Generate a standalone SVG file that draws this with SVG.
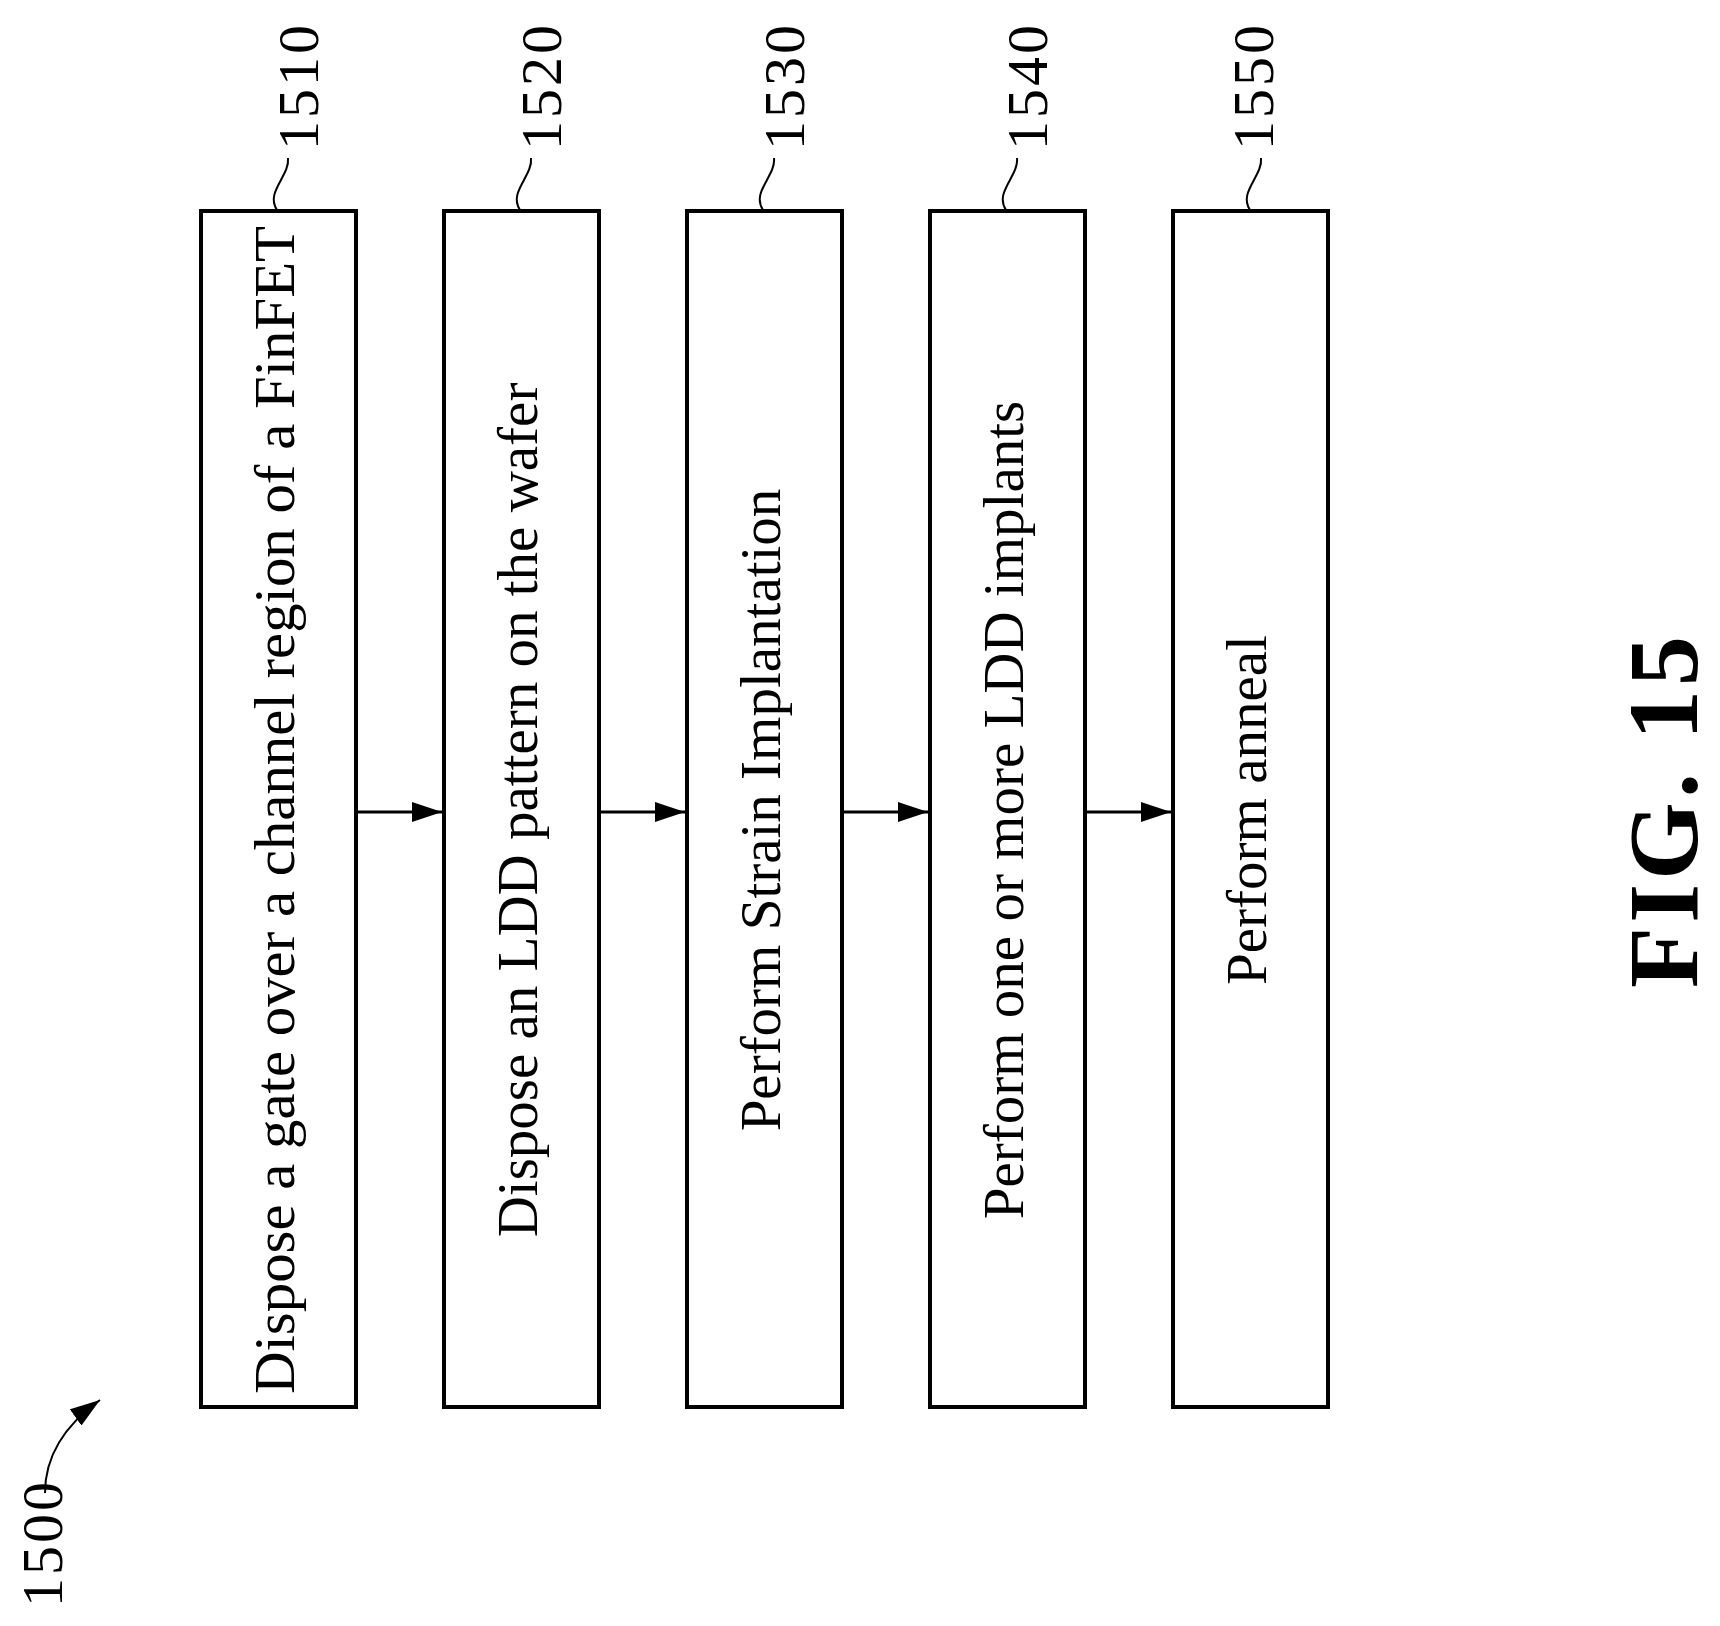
<svg xmlns="http://www.w3.org/2000/svg" width="1720" height="1626" viewBox="0 0 1720 1626">
<defs>
<marker id="ah2" markerWidth="30" markerHeight="20" refX="30" refY="10" orient="auto" markerUnits="userSpaceOnUse" viewBox="0 0 30 20"><path d="M0,0 L30,10 L0,20 Z" fill="#000"/></marker>
<style>
.box{fill:#fff;stroke:#000;stroke-width:4}
.t{font-family:"Liberation Serif","Times New Roman",serif;font-size:57px;fill:#000;text-anchor:middle}
.lbl{font-family:"Liberation Serif","Times New Roman",serif;font-size:58px;fill:#000;letter-spacing:3px}
.lead{fill:none;stroke:#000;stroke-width:2}
.conn{stroke:#000;stroke-width:3;fill:none}
</style>
</defs>
<rect width="1720" height="1626" fill="#fff"/>
<g id="n1510"><rect class="box" x="201" y="211" width="155" height="1196"/><text class="t" transform="translate(294,810) rotate(-90)" textLength="1168" lengthAdjust="spacingAndGlyphs">Dispose a gate over a channel region of a FinFET</text><path class="lead" d="M277,210 C265,192 290,176 288,158"/><text class="lbl" transform="translate(318,150) rotate(-90)">1510</text></g>
<g id="n1520"><rect class="box" x="444" y="211" width="155" height="1196"/><text class="t" transform="translate(537,810) rotate(-90)">Dispose an LDD pattern on the wafer</text><path class="lead" d="M520,210 C508,192 533,176 531,158"/><text class="lbl" transform="translate(561,150) rotate(-90)">1520</text></g>
<g id="n1530"><rect class="box" x="687" y="211" width="155" height="1196"/><text class="t" transform="translate(780,810) rotate(-90)">Perform Strain Implantation</text><path class="lead" d="M763,210 C751,192 776,176 774,158"/><text class="lbl" transform="translate(804,150) rotate(-90)">1530</text></g>
<g id="n1540"><rect class="box" x="930" y="211" width="155" height="1196"/><text class="t" transform="translate(1023,810) rotate(-90)">Perform one or more LDD implants</text><path class="lead" d="M1006,210 C994,192 1019,176 1017,158"/><text class="lbl" transform="translate(1047,150) rotate(-90)">1540</text></g>
<g id="n1550"><rect class="box" x="1173" y="211" width="155" height="1196"/><text class="t" transform="translate(1266,810) rotate(-90)">Perform anneal</text><path class="lead" d="M1250,210 C1238,192 1263,176 1261,158"/><text class="lbl" transform="translate(1273,150) rotate(-90)">1550</text></g>
<g id="connectors">
<line class="conn" x1="356" y1="812" x2="442" y2="812" marker-end="url(#ah2)"/>
<line class="conn" x1="599" y1="812" x2="685" y2="812" marker-end="url(#ah2)"/>
<line class="conn" x1="842" y1="812" x2="928" y2="812" marker-end="url(#ah2)"/>
<line class="conn" x1="1085" y1="812" x2="1171" y2="812" marker-end="url(#ah2)"/>
<path class="lead" d="M45,1493 C45,1455 65,1425 100,1400" marker-end="url(#ah2)"/>
</g>
<text class="lbl" transform="translate(62,1607) rotate(-90)">1500</text>
<text transform="translate(1697,810) rotate(-90)" style="font-family:'Liberation Serif','Times New Roman',serif;font-size:100px;font-weight:bold;text-anchor:middle;letter-spacing:4px">FIG. 15</text>
</svg>
